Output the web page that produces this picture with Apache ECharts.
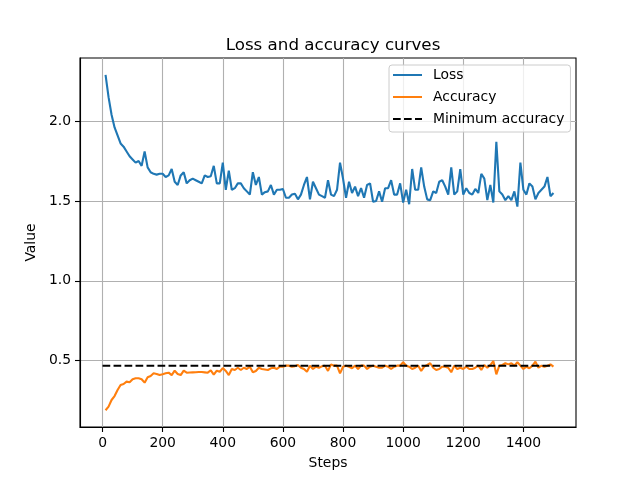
<!DOCTYPE html>
<html>
<head>
<meta charset="utf-8">
<script src="https://cdn.jsdelivr.net/npm/echarts@6/dist/echarts.min.js"></script>
<style>html,body{margin:0;padding:0;background:#fff}#c{width:640px;height:480px}</style>
</head>
<body>
<div id="c"></div>
<script>
const steps = [10,20,30,40,50,60,70,80,90,100,110,120,130,140,150,160,170,180,190,200,
210,220,230,240,250,260,270,280,290,300,310,320,330,340,350,360,370,380,390,400,
410,420,430,440,450,460,470,480,490,500,510,520,530,540,550,560,570,580,590,600,
610,620,630,640,650,660,670,680,690,700,710,720,730,740,750,760,770,780,790,800,
810,820,830,840,850,860,870,880,890,900,910,920,930,940,950,960,970,980,990,1000,
1010,1020,1030,1040,1050,1060,1070,1080,1090,1100,1110,1120,1130,1140,1150,1160,1170,1180,1190,1200,
1210,1220,1230,1240,1250,1260,1270,1280,1290,1300,1310,1320,1330,1340,1350,1360,1370,1380,1390,1400,
1410,1420,1430,1440,1450,1460,1470,1480,1490,1500];
const loss = [2.29,2.15,2.04,1.96,1.91,1.86,1.84,1.81,1.78,1.76,
1.74,1.75,1.72,1.81,1.71,1.68,1.67,1.665,1.67,1.67,
1.65,1.66,1.70,1.62,1.60,1.66,1.68,1.61,1.63,1.64,
1.63,1.62,1.61,1.66,1.65,1.655,1.72,1.61,1.61,1.74,
1.57,1.69,1.57,1.58,1.61,1.61,1.58,1.56,1.54,1.68,
1.60,1.65,1.54,1.555,1.56,1.60,1.54,1.57,1.57,1.575,
1.52,1.52,1.54,1.545,1.51,1.54,1.60,1.65,1.51,1.62,
1.58,1.54,1.53,1.52,1.63,1.54,1.53,1.57,1.74,1.64,
1.52,1.62,1.55,1.59,1.53,1.58,1.52,1.60,1.61,1.495,
1.50,1.56,1.495,1.58,1.58,1.63,1.54,1.54,1.61,1.49,
1.57,1.48,1.70,1.57,1.57,1.71,1.59,1.51,1.505,1.56,
1.55,1.62,1.63,1.59,1.54,1.71,1.54,1.56,1.70,1.54,
1.58,1.55,1.54,1.575,1.55,1.67,1.64,1.505,1.60,1.49,
1.87,1.56,1.54,1.505,1.53,1.505,1.56,1.465,1.74,1.57,
1.54,1.61,1.59,1.51,1.55,1.57,1.59,1.65,1.53,1.55];
const accuracy = [0.19,0.2125,0.254,0.279,0.317,0.348,0.354,0.369,0.365,0.384,
0.39,0.39,0.384,0.3625,0.396,0.404,0.421,0.417,0.41,0.415,
0.421,0.425,0.41,0.4375,0.417,0.41,0.4375,0.425,0.426,0.427,
0.428,0.429,0.429,0.427,0.425,0.44,0.413,0.4375,0.431,0.454,
0.436,0.41,0.448,0.442,0.456,0.442,0.456,0.448,0.4625,0.4275,
0.436,0.456,0.448,0.445,0.442,0.4525,0.456,0.448,0.4625,0.4625,
0.469,0.469,0.4625,0.466,0.473,0.456,0.448,0.431,0.469,0.448,
0.4625,0.456,0.465,0.469,0.436,0.477,0.469,0.469,0.421,0.4625,
0.469,0.4625,0.4525,0.469,0.448,0.469,0.469,0.448,0.4625,0.469,
0.4625,0.456,0.456,0.469,0.4625,0.448,0.4625,0.469,0.469,0.49,
0.469,0.4625,0.448,0.456,0.469,0.436,0.4625,0.473,0.484,0.456,
0.442,0.448,0.4625,0.4625,0.456,0.4275,0.469,0.448,0.456,0.448,
0.4625,0.448,0.448,0.456,0.469,0.442,0.473,0.456,0.473,0.498,
0.415,0.469,0.473,0.484,0.477,0.484,0.469,0.49,0.469,0.448,
0.4625,0.4525,0.469,0.494,0.456,0.469,0.4625,0.469,0.477,0.4625];
const minAccuracy = 0.468;
const minAccuracySpan = [0, 1500];
const xTicks = [0,200,400,600,800,1000,1200,1400];
const yTicks = [0.5,1.0,1.5,2.0];

const font = 'DejaVu Sans';
const chart = echarts.init(document.getElementById('c'), null, {renderer:'canvas'});
const pair = (xs, ys) => xs.map((x, i) => [x, ys[i]]);
chart.setOption({
  animation: false,
  backgroundColor: '#fff',
  title: {
    text: 'Loss and accuracy curves',
    left: 328, top: 32, textAlign: 'center',
    textStyle: {fontFamily: font, fontSize: 16.7, fontWeight: 'normal', color: '#000'}
  },
  legend: {
    orient: 'vertical', left: 389, top: 65,
    padding: [3, 6, 6, 3], itemWidth: 29, itemHeight: 14, itemGap: 8,
    backgroundColor: 'rgba(255,255,255,0.8)', borderColor: '#cccccc', borderWidth: 1, borderRadius: 3,
    itemStyle: {opacity: 0},
    textStyle: {fontFamily: font, fontSize: 13.9, color: '#000', padding: [0,0,0,6]},
    data: ['Loss', 'Accuracy', 'Minimum accuracy']
  },
  grid: {left: 80, right: 64, top: 58, bottom: 53, show: true, borderColor: '#000', borderWidth: 1.1, backgroundColor: 'transparent'},
  xAxis: {
    type: 'value', min: -75, max: 1575,
    name: 'Steps', nameLocation: 'middle', nameGap: 29,
    nameTextStyle: {fontFamily: font, fontSize: 13.9, color: '#000'},
    axisLine: {show: true, onZero: false, lineStyle: {color: '#000', width: 1.1}},
    axisTick: {show: true, length: 5, lineStyle: {color: '#000', width: 1.1}, customValues: xTicks},
    axisLabel: {fontFamily: font, fontSize: 13.9, color: '#000', margin: 9, customValues: xTicks,
      formatter: v => String(v)},
    splitLine: {show: true, lineStyle: {color: '#b0b0b0', width: 1.1}}
  },
  yAxis: {
    type: 'value', min: 0.085, max: 2.395,
    name: 'Value', nameLocation: 'middle', nameGap: 35, nameRotate: 90,
    nameTextStyle: {fontFamily: font, fontSize: 13.9, color: '#000'},
    axisLine: {show: true, onZero: false, lineStyle: {color: '#000', width: 1.1}},
    axisTick: {show: true, length: 5, lineStyle: {color: '#000', width: 1.1}, customValues: yTicks},
    axisLabel: {fontFamily: font, fontSize: 13.9, color: '#000', margin: 9, customValues: yTicks,
      formatter: v => v.toFixed(1)},
    splitLine: {show: true, lineStyle: {color: '#b0b0b0', width: 1.1}}
  },
  series: [
    {name: 'Loss', type: 'line', data: pair(steps, loss), symbol: 'none', showSymbol: false,
     lineStyle: {color: '#1f77b4', width: 2.1}, itemStyle: {color: '#1f77b4'}, z: 3},
    {name: 'Accuracy', type: 'line', data: pair(steps, accuracy), symbol: 'none', showSymbol: false,
     lineStyle: {color: '#ff7f0e', width: 2.1}, itemStyle: {color: '#ff7f0e'}, z: 3},
    {name: 'Minimum accuracy', type: 'line', data: minAccuracySpan.map(x => [x, minAccuracy]), symbol: 'none', showSymbol: false,
     lineStyle: {color: '#000', width: 2.1, type: [7.7, 3.3]}, itemStyle: {color: '#000'}, z: 4}
  ]
});
</script>
</body>
</html>
